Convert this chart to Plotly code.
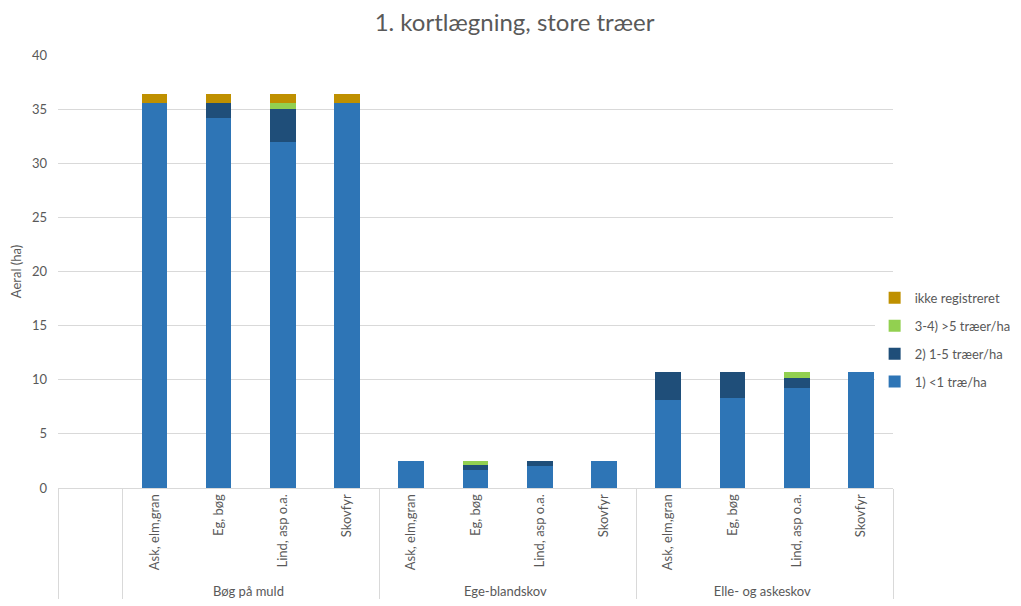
"""1. kortlægning, store træer - stacked area per forest type and species group."""
import plotly.graph_objects as go

BLUE, DARK, GREEN, GOLD = "#2E75B6", "#1F4E79", "#92D050", "#BF9000"
GREY, GRID = "#595959", "#D9D9D9"
FONT = dict(family="Lato, Carlito, sans-serif", color=GREY)

groups = ["Bøg på muld"] * 4 + ["Ege-blandskov"] * 4 + ["Elle- og askeskov"] * 4
species = ["Ask, elm,gran", "Eg, bøg", "Lind, asp o.a.", "Skovfyr"] * 3

under_1 = [35.6, 34.2, 32.0, 35.6, 2.5, 1.65, 2.0, 2.5, 8.15, 8.35, 9.25, 10.7]
one_five = [0, 1.4, 3.0, 0, 0, 0.5, 0.5, 0, 2.55, 2.35, 0.9, 0]
over_5 = [0, 0, 0.6, 0, 0, 0.35, 0, 0, 0, 0, 0.55, 0]
ikke_reg = [0.8, 0.8, 0.8, 0.8, 0, 0, 0, 0, 0, 0, 0, 0]

series = [("1) <1 træ/ha", under_1, BLUE), ("2) 1-5 træer/ha", one_five, DARK),
          ("3-4) >5 træer/ha", over_5, GREEN), ("ikke registreret", ikke_reg, GOLD)]

# empty leading slot, as in the original spreadsheet
x = [[" "] + groups, [" "] + species]

fig = go.Figure()
for i, (name, vals, col) in enumerate(series):
    # top of the stack first in the legend, like Excel
    fig.add_trace(go.Bar(x=x, y=[None] + vals, name=name, marker_color=col,
                         marker_line_width=0, legendgroup=name, legendrank=len(series) - i))

# page body has an 8px margin, so the figure is a bit smaller than the window
fig.update_layout(
    barmode="stack", bargap=0.6, width=1013, height=598, font=FONT,
    template="plotly_white", paper_bgcolor="white", plot_bgcolor="white",
    margin=dict(l=50, r=128, t=47, b=118, autoexpand=False),
    title=dict(text="1. kortlægning, store træer", x=0.5, xanchor="center",
               y=1 - 15 / 598, yanchor="middle", font=dict(size=24, color=GREY)),
    legend=dict(x=0.978, y=0.342, yanchor="middle", traceorder="grouped",
                font=dict(size=13, color=GREY), itemwidth=30, tracegroupgap=8),
)
fig.update_yaxes(range=[0, 40], dtick=5, gridcolor=GRID, zeroline=False,
                 ticklabelstandoff=10, tickfont=dict(size=13, color=GREY),
                 title=dict(text="Aeral (ha)", font=dict(size=13, color=GREY), standoff=8))
fig.update_xaxes(type="multicategory", showline=True, linecolor=GRID, tickangle=-90,
                 showdividers=True, dividercolor=GRID, dividerwidth=1,
                 tickfont=dict(size=13, color=GREY), showgrid=False)

fig.write_html("out.html")
